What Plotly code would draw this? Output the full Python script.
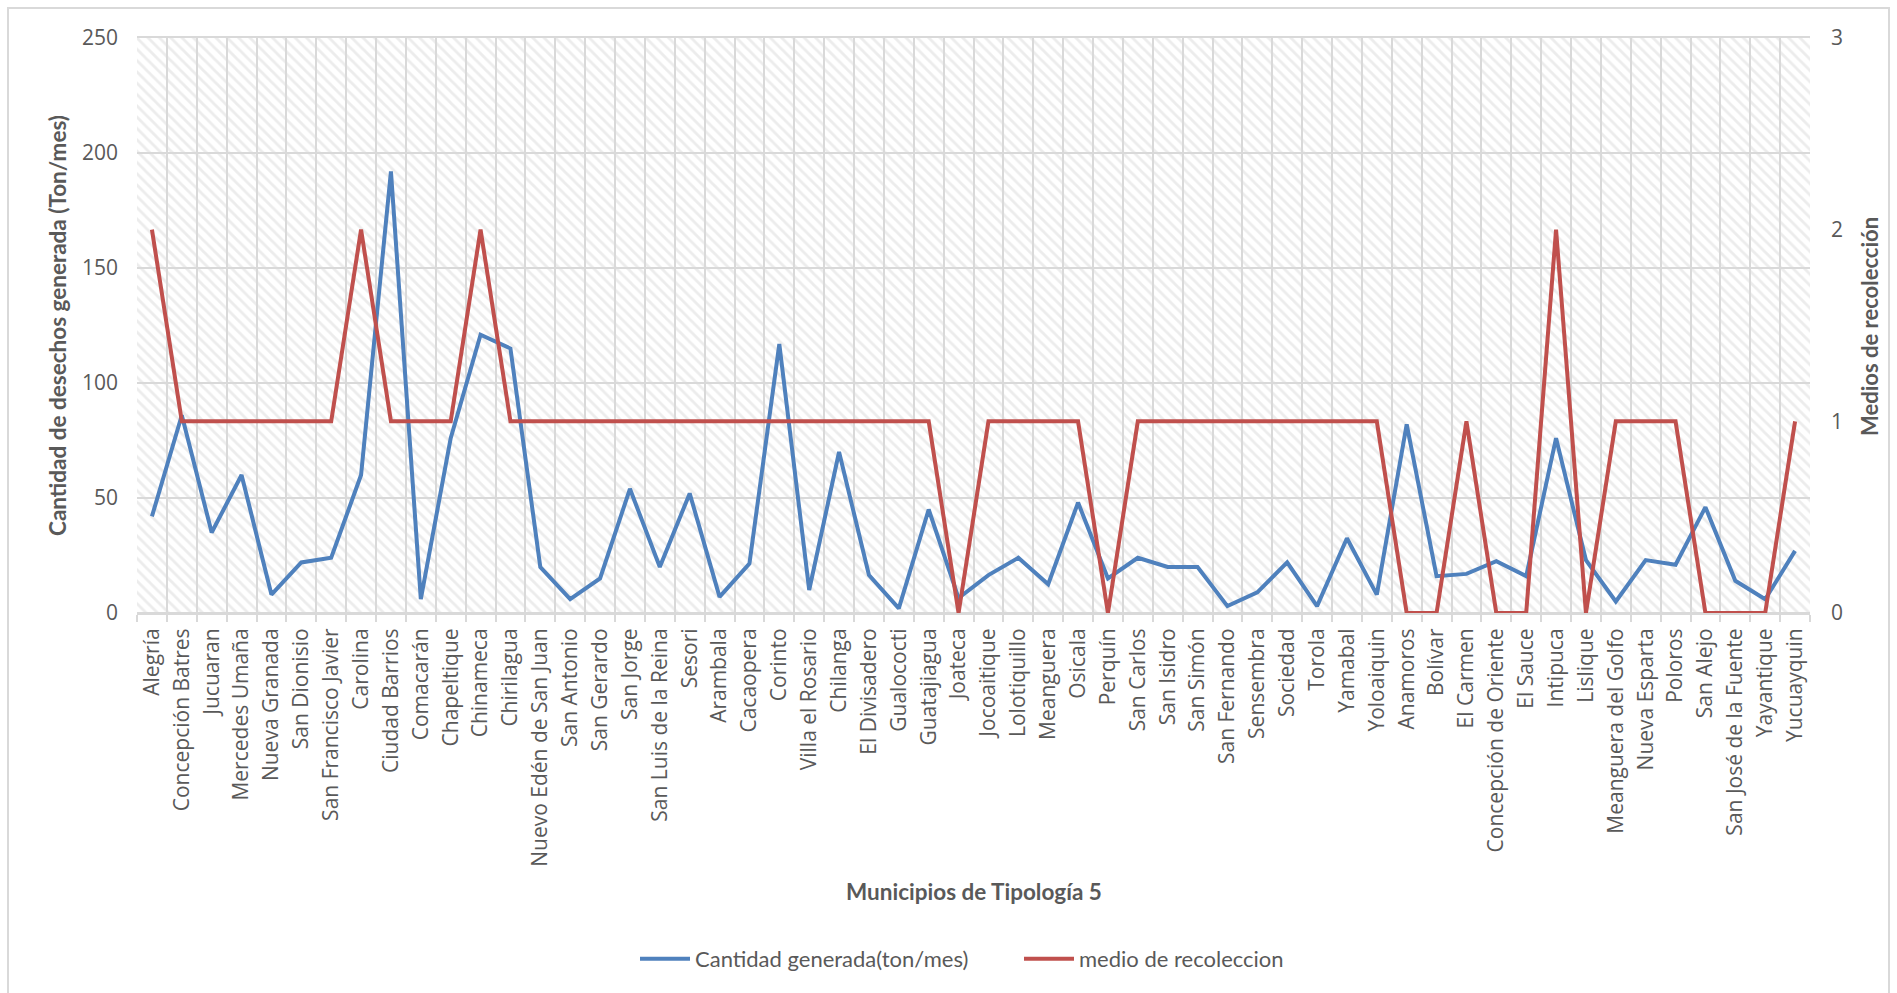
import plotly.graph_objects as go

categories = ["Alegría", "Concepción Batres", "Jucuaran", "Mercedes Umaña", "Nueva Granada",
              "San Dionisio", "San Francisco Javier", "Carolina", "Ciudad Barrios", "Comacarán",
              "Chapeltique", "Chinameca", "Chirilagua", "Nuevo Edén de San Juan", "San Antonio",
              "San Gerardo", "San Jorge", "San Luis de la Reina", "Sesori", "Arambala",
              "Cacaopera", "Corinto", "Villa el Rosario", "Chilanga", "El Divisadero",
              "Gualococti", "Guatajiagua", "Joateca", "Jocoaitique", "Lolotiquillo",
              "Meanguera", "Osicala", "Perquín", "San Carlos", "San Isidro",
              "San Simón", "San Fernando", "Sensembra", "Sociedad", "Torola",
              "Yamabal", "Yoloaiquin", "Anamoros", "Bolívar", "El Carmen",
              "Concepción de Oriente", "El Sauce", "Intipuca", "Lislique", "Meanguera del Golfo",
              "Nueva Esparta", "Poloros", "San Alejo", "San José de la Fuente", "Yayantique",
              "Yucuayquin"]

cantidad = [42, 86, 35, 60, 8, 22, 24, 60, 192, 6,
            76, 121, 115, 20, 6, 15, 54, 20, 52, 7,
            21.5, 117, 10, 70, 16.5, 2, 45, 6.5, 16.5, 24,
            12.5, 48, 15, 24, 20, 20, 3, 9, 22, 3,
            32.5, 8, 82, 16, 17, 22.5, 16, 76, 23, 5,
            23, 21, 46, 14, 6, 27]

medio = [2, 1, 1, 1, 1, 1, 1, 2, 1, 1,
         1, 2, 1, 1, 1, 1, 1, 1, 1, 1,
         1, 1, 1, 1, 1, 1, 1, 0, 1, 1,
         1, 1, 0, 1, 1, 1, 1, 1, 1, 1,
         1, 1, 0, 0, 1, 0, 0, 2, 0, 1,
         1, 1, 0, 0, 0, 1]

left_ticks = [0, 50, 100, 150, 200, 250]
right_ticks = [0, 1, 2, 3]

Y_MAX = 250
Y2_MAX = 3

W, H = 1897, 993
ML, MR, MT, MB = 137, 87, 38, 380
PW, PH = W - ML - MR, H - MT - MB

GRID = "#D9D9D9"
TXT = "#595959"
BLUE = "#4F81BD"
RED = "#C0504D"

fig = go.Figure()

# hatched plot-area background
fig.add_trace(go.Bar(
    x=categories, y=[Y_MAX] * len(categories), width=1,
    marker=dict(color="rgba(0,0,0,0)", line=dict(width=0),
                pattern=dict(shape="\\", fgcolor="#D9D9D9", bgcolor="rgba(0,0,0,0)",
                             size=8, solidity=0.35)),
    showlegend=False, hoverinfo="skip", yaxis="y"))

fig.add_trace(go.Scatter(
    x=categories, y=cantidad, mode="lines", name="Cantidad generada(ton/mes)",
    line=dict(color=BLUE, width=4), yaxis="y"))

fig.add_trace(go.Scatter(
    x=categories, y=medio, mode="lines", name="medio de recoleccion",
    line=dict(color=RED, width=4), yaxis="y2"))

def px_x(p):
    return (p - ML) / PW

def px_y(p):
    return (H - MB - p) / PH

fig.update_layout(
    width=W, height=H,
    margin=dict(l=ML, r=MR, t=MT, b=MB),
    paper_bgcolor="white", plot_bgcolor="white",
    bargap=0,
    font=dict(family="Open Sans", color=TXT),
    xaxis=dict(
        type="category", tickson="boundaries", range=[-0.5, len(categories) - 0.5],
        showgrid=True, gridcolor=GRID, gridwidth=2,
        ticks="outside", ticklen=7, tickcolor=GRID, tickwidth=2,
        tickangle=-90, tickfont=dict(family="Open Sans", size=21, color=TXT),
        ticklabelstandoff=5,
        showline=True, linecolor=GRID, linewidth=2, mirror=True,
    ),
    yaxis=dict(
        range=[0, Y_MAX], tickvals=left_ticks,
        showgrid=True, gridcolor=GRID, gridwidth=2,
        zeroline=True, zerolinecolor=GRID, zerolinewidth=2,
        tickfont=dict(family="Open Sans", size=21, color=TXT),
        ticklabelstandoff=18,
        showline=False,
    ),
    yaxis2=dict(
        range=[0, Y2_MAX], tickvals=right_ticks, overlaying="y", side="right",
        showgrid=False, zeroline=False,
        tickfont=dict(family="Open Sans", size=21, color=TXT),
        ticklabelstandoff=20,
    ),
    legend=dict(
        orientation="h", x=px_x(1019), y=px_y(959), xanchor="center", yanchor="middle",
        font=dict(family="Lato", size=22, color=TXT),
        itemwidth=50, traceorder="normal", bgcolor="rgba(0,0,0,0)",
        entrywidth=319, entrywidthmode="pixels",
    ),
    showlegend=True,
    annotations=[
        dict(text="<b>Cantidad de desechos generada (Ton/mes)</b>", textangle=-90,
             x=px_x(57), y=px_y(326), xref="paper", yref="paper", showarrow=False,
             xanchor="center", yanchor="middle",
             font=dict(family="Lato", size=22.5, color=TXT)),
        dict(text="<b>Medios de recolección</b>", textangle=-90,
             x=px_x(1869), y=px_y(327), xref="paper", yref="paper", showarrow=False,
             xanchor="center", yanchor="middle",
             font=dict(family="Lato", size=22, color=TXT)),
        dict(text="<b>Municipios de Tipología 5</b>",
             x=px_x(974), y=px_y(891), xref="paper", yref="paper", showarrow=False,
             xanchor="center", yanchor="middle",
             font=dict(family="Lato", size=22.5, color=TXT)),
    ],
    shapes=[
        dict(type="rect", xref="paper", yref="paper",
             x0=px_x(8), x1=px_x(1889), y0=px_y(1000), y1=px_y(8),
             line=dict(color=GRID, width=2), fillcolor="rgba(0,0,0,0)", layer="below"),
    ],
)

fig.write_html("out.html")
